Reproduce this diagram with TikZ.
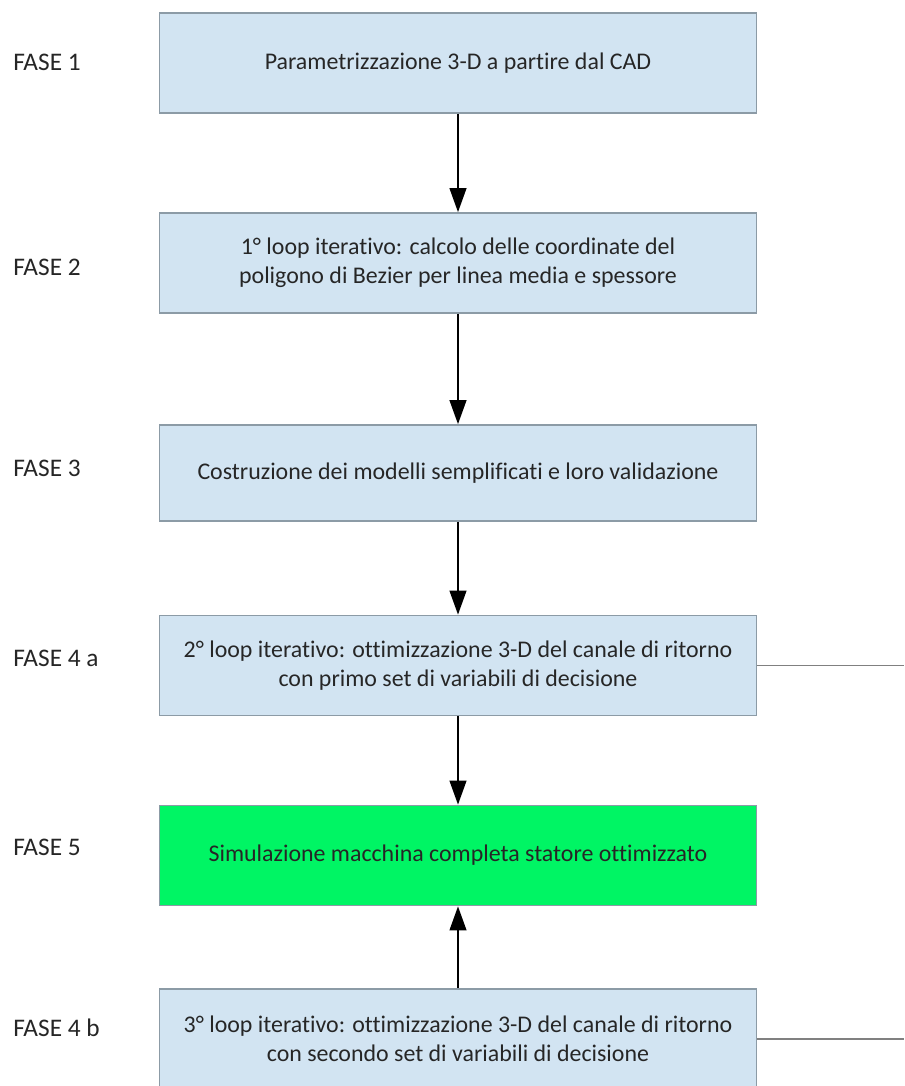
\documentclass[tikz,border=0pt]{standalone}
\usepackage{fontspec}
\setmainfont{Carlito}[Ligatures=NoCommon]
\usetikzlibrary{arrows.meta}
\definecolor{boxblue}{RGB}{210,228,242}
\definecolor{boxedge}{RGB}{140,155,166}
\definecolor{boxgreen}{RGB}{0,245,100}
\definecolor{textgray}{RGB}{38,38,38}
\tikzset{
  fasebox/.style={draw=boxedge, line width=1.2pt, fill=boxblue,
    minimum width=14.925cm, minimum height=2.5cm, inner sep=0pt,
    align=center, text=textgray, font=\fontsize{17}{20.5}\selectfont},
  faselabel/.style={anchor=west, inner sep=0pt, text=textgray,
    font=\fontsize{18}{22}\selectfont},
  flow/.style={-{Triangle[length=0.6cm,width=0.42cm]}, line width=1.2pt, black},
  sideline/.style={draw=gray, line width=0.8pt}
}

\begin{document}
\begin{tikzpicture}[x=0.025cm, y=-0.025cm]
    \clip (0,0) rectangle (904,1086);
    \fill[white] (0,0) rectangle (904,1086);
    % phase boxes
    \node[fasebox] (p1) at (458,63) {Parametrizzazione 3-D a partire dal CAD};
    \node[fasebox] (p2) at (458,263) {1° loop iterativo: calcolo delle coordinate del\\poligono di Bezier per linea media e spessore};
    \node[fasebox, minimum height=2.4cm] (p3) at (458,473) {Costruzione dei modelli semplificati e loro validazione};
    \node[fasebox] (p4a) at (458,665.5) {2° loop iterativo: ottimizzazione 3-D del canale di ritorno\\con primo set di variabili di decisione};
    \node[fasebox, fill=boxgreen] (p5) at (458,855.5) {Simulazione macchina completa statore ottimizzato};
    \node[fasebox] (p4b) at (458,1039) {3° loop iterativo: ottimizzazione 3-D del canale di ritorno\\con secondo set di variabili di decisione};
    % labels
    \node[faselabel] (l1) at (13,62) {FASE 1};
    \node[faselabel] (l2) at (13,267) {FASE 2};
    \node[faselabel] (l3) at (13,468) {FASE 3};
    \node[faselabel] (l4a) at (13,658) {FASE 4 a};
    \node[faselabel] (l5) at (13,847) {FASE 5};
    \node[faselabel] (l4b) at (13,1028) {FASE 4 b};
    % arrows
    \draw[flow] (p1) -- (p2);
    \draw[flow] (p2) -- (p3);
    \draw[flow] (p3) -- (p4a);
    \draw[flow] (p4a) -- (p5);
    \draw[flow] (p4b) -- (p5);
    % lines to the right edge
    \coordinate (r4a) at (904,665.5);
    \coordinate (r4b) at (904,1039);
    \draw[sideline] (p4a.east) -- (r4a);
    \draw[sideline] (p4b.east) -- (r4b);
\end{tikzpicture}
\end{document}
